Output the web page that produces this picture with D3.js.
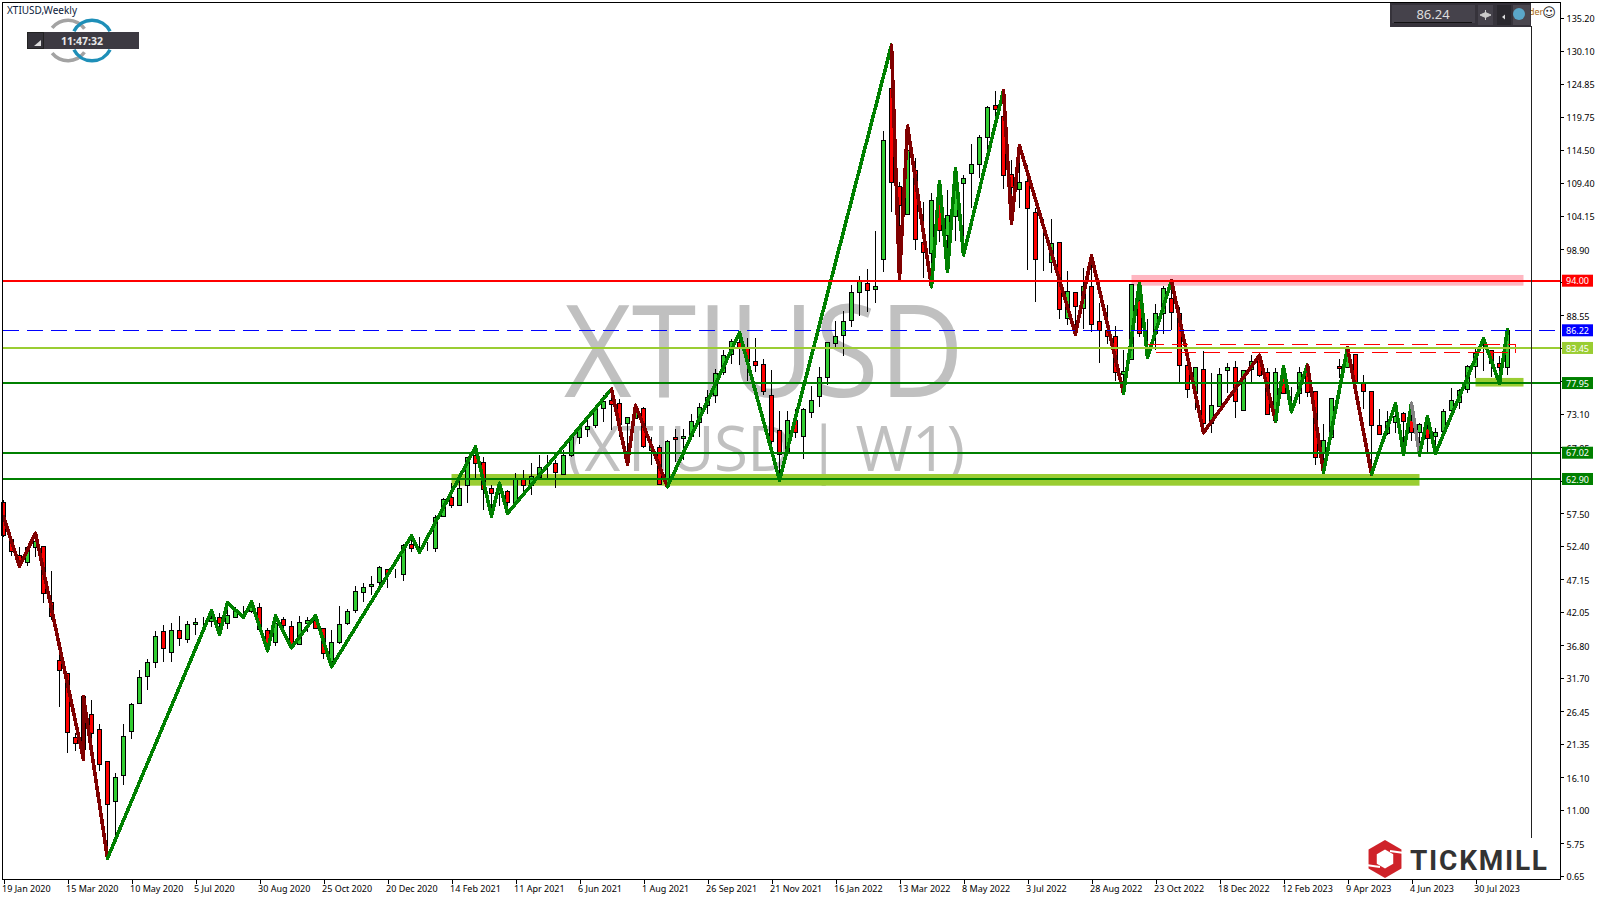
<!DOCTYPE html>
<html>
<head>
<meta charset="utf-8">
<title>XTIUSD,Weekly</title>
<script src="https://cdn.jsdelivr.net/npm/d3@7"></script>
<style>
    html, body { margin: 0; padding: 0; background: #fff; overflow: hidden; }
    text { font-family: "Noto Sans", sans-serif; }
    .axis text { font-size: 9px; fill: #000; }
    .axis line { stroke: #000; shape-rendering: crispEdges; }
    .axis path { display: none; }
</style>
</head>
<body>
<div id="chart"></div>
<script>
// weekly candles, one per week starting 19 Jan 2020
const opens = [
    59.24, 53.43, 50.92, 49.83, 52.18, 52.28, 43.55, 34.46, 32.42, 22.38,
    20.50, 25.99, 23.63, 18.62, 12.34, 16.42, 23.32, 27.71, 31.95, 34.14,
    39.00, 35.71, 39.16, 37.75, 40.10, 40.52, 40.57, 41.20, 40.26, 41.20,
    42.09, 42.09, 42.77, 39.16, 37.28, 40.89, 39.79, 36.97, 40.26, 40.73,
    39.48, 34.35, 37.23, 40.20, 42.24, 45.12, 46.06, 46.69, 48.72, 48.04,
    47.94, 52.65, 52.12, 52.02, 52.02, 56.98, 60.02, 58.76, 61.90, 66.66,
    65.51, 61.43, 60.64, 60.91, 59.23, 62.84, 61.95, 63.15, 65.45, 65.35,
    63.57, 66.60, 69.43, 70.68, 71.26, 73.98, 75.18, 74.76, 71.62, 72.41,
    74.03, 67.33, 67.87, 61.95, 69.43, 69.28, 69.53, 71.83, 74.39, 76.02,
    79.57, 82.45, 84.27, 83.44, 81.35, 80.82, 76.02, 70.53, 67.24, 72.10,
    69.53, 73.29, 75.86, 78.78, 84.18, 85.37, 87.83, 92.17, 93.59, 92.58,
    97.35, 124.17, 108.74, 104.35, 111.31, 100.02, 98.29, 106.13, 101.16, 104.14,
    109.27, 110.84, 112.25, 116.49, 121.44, 119.72, 110.62, 108.33, 109.52, 104.72,
    97.51, 96.88, 100.02, 88.10, 92.11, 89.67, 93.05, 87.57, 86.15, 85.21,
    79.36, 81.67, 90.97, 85.68, 85.64, 88.88, 91.17, 88.88, 80.73, 76.38,
    80.10, 71.63, 74.23, 79.88, 80.41, 73.61, 80.10, 82.08, 79.63, 72.15,
    78.94, 76.38, 76.33, 79.63, 76.59, 66.92, 69.43, 80.62, 80.41, 82.45,
    77.90, 76.65, 71.32, 70.06, 71.79, 73.20, 72.15, 70.16, 70.85, 69.53,
    70.38, 73.61, 74.92, 76.96, 80.51, 82.86, 83.02, 81.04, 80.41
];
const highs = [
    59.60, 53.59, 52.18, 52.39, 54.39, 52.39, 48.47, 35.55, 32.52, 23.01,
    28.86, 28.24, 24.42, 18.72, 16.73, 24.42, 27.71, 32.94, 34.61, 39.06,
    39.98, 40.26, 41.41, 40.63, 41.10, 41.25, 42.25, 41.83, 42.61, 42.87,
    42.98, 43.66, 43.40, 39.48, 41.41, 41.20, 40.63, 41.41, 41.30, 41.57,
    39.48, 39.21, 42.98, 42.46, 46.11, 46.53, 47.68, 49.25, 48.72, 48.72,
    52.70, 53.85, 53.74, 53.06, 57.25, 59.86, 62.21, 62.74, 66.40, 67.81,
    66.40, 61.95, 62.21, 61.17, 63.78, 64.30, 65.35, 66.66, 66.66, 65.87,
    67.44, 69.79, 71.36, 72.41, 74.34, 76.07, 77.01, 75.39, 72.67, 74.34,
    74.19, 69.53, 68.23, 69.01, 70.74, 70.74, 73.09, 74.81, 76.85, 80.10,
    83.13, 84.80, 85.84, 85.01, 85.01, 81.67, 79.99, 73.56, 73.56, 73.83,
    74.03, 77.48, 80.51, 84.43, 87.67, 89.29, 93.32, 94.73, 95.78, 101.79,
    117.47, 130.96, 109.43, 118.26, 113.19, 106.29, 107.70, 109.52, 108.22, 111.62,
    110.57, 115.44, 116.85, 121.39, 123.75, 123.79, 112.93, 115.01, 112.14, 105.35,
    103.63, 103.63, 100.02, 95.52, 92.11, 95.94, 97.76, 90.45, 90.18, 86.94,
    83.13, 93.48, 93.68, 87.94, 90.34, 93.17, 93.99, 89.82, 83.13, 80.46,
    82.97, 79.47, 80.35, 81.04, 81.40, 80.04, 82.34, 82.34, 80.26, 80.26,
    80.51, 77.37, 80.51, 80.77, 76.59, 71.52, 75.60, 81.72, 83.49, 82.50,
    79.20, 76.70, 73.87, 73.56, 74.66, 73.45, 74.77, 71.73, 72.67, 70.85,
    73.87, 77.12, 77.01, 80.77, 83.23, 84.85, 83.13, 82.18, 86.37
];
const lows = [
    53.75, 50.82, 49.04, 49.30, 50.61, 43.50, 40.78, 27.19, 19.98, 20.29,
    18.82, 22.22, 17.15, 3.40, 6.54, 14.96, 22.17, 27.66, 29.86, 33.31,
    34.25, 34.25, 36.70, 37.17, 38.43, 39.74, 39.68, 38.43, 39.37, 41.20,
    41.10, 41.93, 39.21, 36.08, 36.76, 39.48, 36.34, 36.86, 38.90, 39.37,
    34.67, 34.25, 37.02, 40.04, 41.93, 43.65, 44.70, 46.01, 45.85, 47.31,
    46.95, 51.39, 51.23, 51.65, 51.50, 56.88, 58.40, 58.76, 59.18, 63.10,
    58.03, 57.25, 58.66, 57.51, 59.18, 60.91, 60.38, 63.00, 63.10, 61.53,
    63.57, 66.29, 68.38, 69.53, 70.84, 71.88, 70.58, 69.43, 65.35, 72.36,
    67.76, 65.14, 61.95, 61.69, 65.61, 65.87, 69.48, 69.53, 73.09, 74.86,
    79.20, 80.93, 80.77, 78.31, 79.72, 76.02, 66.97, 62.74, 67.08, 69.28,
    66.03, 72.51, 74.23, 77.64, 83.28, 82.18, 86.78, 88.46, 89.13, 90.54,
    95.41, 104.82, 94.37, 104.25, 98.81, 94.37, 93.05, 100.11, 95.41, 100.27,
    98.03, 105.35, 110.15, 114.23, 119.72, 108.33, 103.00, 105.44, 95.67, 90.70,
    95.56, 95.15, 88.00, 87.05, 85.64, 86.42, 85.99, 81.14, 84.07, 78.31,
    76.33, 81.56, 85.12, 81.98, 83.13, 85.64, 86.26, 78.16, 75.55, 73.72,
    70.16, 70.16, 74.14, 76.43, 72.41, 73.51, 77.90, 78.94, 72.93, 71.99,
    76.23, 73.45, 74.66, 75.80, 65.09, 63.95, 69.37, 78.69, 80.35, 77.90,
    73.87, 63.68, 69.84, 69.80, 70.06, 66.81, 68.90, 66.66, 67.02, 66.93,
    70.22, 73.61, 73.83, 76.43, 78.69, 79.83, 78.94, 77.95, 79.20
];
const closes = [
    54.01, 51.55, 49.93, 52.18, 53.07, 44.96, 41.30, 32.89, 23.16, 21.44,
    28.76, 23.01, 18.20, 11.87, 16.11, 22.54, 27.56, 31.79, 34.14, 38.22,
    36.34, 39.16, 37.91, 40.10, 40.42, 40.52, 41.04, 40.26, 41.52, 42.40,
    42.09, 42.77, 39.32, 37.12, 40.26, 39.89, 37.02, 40.42, 40.73, 39.48,
    35.55, 37.28, 40.10, 42.14, 45.27, 45.90, 46.37, 49.04, 47.99, 48.04,
    52.44, 52.02, 51.97, 52.02, 56.88, 59.70, 58.71, 61.43, 66.29, 65.35,
    61.27, 60.64, 61.43, 59.23, 62.84, 61.90, 63.26, 64.72, 65.45, 63.94,
    66.60, 69.64, 71.00, 71.15, 74.03, 75.07, 74.60, 71.52, 72.56, 73.45,
    68.07, 67.96, 62.06, 68.81, 69.06, 69.64, 71.94, 74.14, 75.71, 79.47,
    82.34, 84.54, 83.55, 81.29, 80.66, 76.59, 68.74, 66.77, 72.10, 70.22,
    73.83, 75.24, 78.84, 84.33, 85.27, 87.63, 92.17, 93.84, 92.43, 93.12,
    116.02, 109.37, 105.87, 114.38, 100.49, 98.45, 106.61, 101.90, 104.25, 108.22,
    110.06, 112.25, 116.49, 121.19, 120.88, 110.46, 108.64, 109.37, 105.35, 97.35,
    97.51, 99.86, 89.51, 92.27, 90.03, 93.05, 87.16, 86.26, 85.32, 79.63,
    79.72, 93.43, 85.64, 85.68, 88.88, 92.80, 89.04, 80.73, 76.96, 80.41,
    71.63, 74.46, 79.31, 80.41, 75.02, 79.99, 81.35, 79.10, 73.04, 79.63,
    76.33, 76.38, 79.63, 76.43, 66.30, 68.90, 75.55, 80.19, 82.61, 78.06,
    76.59, 71.25, 69.95, 71.94, 72.67, 71.88, 70.22, 71.41, 69.28, 70.22,
    73.45, 75.24, 76.81, 80.57, 82.61, 82.86, 81.04, 80.41, 86.15
];

// zigzag pivots: bar number, price, and which leg leads into the pivot
const zigzagBars = [0, 2, 4, 10, 10, 13, 26, 27, 28, 30, 31, 33, 34, 36, 39, 41, 51, 52, 59, 61, 62, 63, 76,
    78, 79, 83, 92, 97, 111, 112, 113, 116, 117, 118, 119, 120, 125, 126, 127, 134, 136, 140,
    142, 143, 146, 150, 157, 159, 160, 161, 163, 165, 168, 171, 174, 175, 176, 177, 178, 179, 185, 187, 188];
const zigzagPrices = [57.00, 49.25, 54.38, 18.93, 28.75, 3.40, 42.24, 38.54, 43.49, 41.21, 43.60, 35.96, 41.41, 36.44, 41.45, 33.46, 53.95, 51.40, 67.91, 57.09, 62.22, 57.51, 77.01,
    65.25, 74.45, 61.69, 85.84, 62.74, 130.96, 94.37, 118.26, 93.05, 109.52, 95.41, 111.62, 98.03, 123.79, 103.00, 115.17, 85.64, 97.87, 76.33,
    93.68, 81.98, 93.99, 70.16, 82.29, 71.99, 80.51, 73.45, 80.77, 63.95, 83.49, 63.68, 74.66, 66.81, 74.77, 66.66, 72.67, 66.93, 84.85, 77.90, 86.37];
const zigzagLegs = ["", "down", "down", "down", "down", "down", "up", "up", "up", "up", "up", "up", "up", "up", "up", "up", "up", "up", "up", "up", "up", "up", "up",
    "down", "down", "down", "up", "up", "up", "down", "down", "down", "up", "up", "up", "up", "up", "down", "down", "down", "down", "down",
    "up", "up", "up", "down", "down", "down", "up", "up", "up", "down", "up", "down", "up", "up", "up", "flat", "up", "up", "up", "up", "up"];

// horizontal levels
const levelPrices = [94.00, 86.22, 83.45, 77.95, 67.02, 62.90];
const levelNames = ["resistance", "current", "pivot", "support", "support", "support"];

// zones: first bar, last bar, upper price, lower price
const zoneBars = [[141, 190], [56, 177], [184, 190]];
const zonePrices = [[94.90, 93.22], [63.68, 61.85], [78.75, 77.40]];
const zoneNames = ["resistance", "support", "support"];

// dashed box near the top of the range
const boxBars = [143, 189];
const boxPrices = [84.02, 82.73];

// axis labels
const yTicks = [135.20, 130.10, 124.85, 119.75, 114.50, 109.40, 104.15, 98.90, 93.80, 88.55, 83.45, 78.20, 73.10, 67.85, 62.60,
    57.50, 52.40, 47.15, 42.05, 36.80, 31.70, 26.45, 21.35, 16.10, 11.00, 5.75, 0.65];
const xLabels = ["19 Jan 2020", "15 Mar 2020", "10 May 2020", "5 Jul 2020", "30 Aug 2020", "25 Oct 2020", "20 Dec 2020",
    "14 Feb 2021", "11 Apr 2021", "6 Jun 2021", "1 Aug 2021", "26 Sep 2021", "21 Nov 2021", "16 Jan 2022", "13 Mar 2022",
    "8 May 2022", "3 Jul 2022", "28 Aug 2022", "23 Oct 2022", "18 Dec 2022", "12 Feb 2023", "9 Apr 2023", "4 Jun 2023", "30 Jul 2023"];

const candles = opens.map((o, i) => ({ i: i, o: o, h: highs[i], l: lows[i], c: closes[i] }));

const legColor = { down: "#800000", up: "#008000", flat: "#808080" };
const levelColor = { resistance: "#ff0000", current: "#0000ff", pivot: "#9acd32", support: "#008000" };
const zoneColor = { resistance: "#ffb6c1", support: "#9acd32" };

const width = 1600, height = 900;
const frame = { left: 2.5, top: 2.5, right: 1560.5, bottom: 879.5 };

const svg = d3.select("#chart").append("svg")
    .attr("width", width)
    .attr("height", height)
    .style("display", "block");

// one bar is 8px wide
const x = d3.scaleLinear().domain([0, 188]).range([3.5, 1507.5]);
const y = d3.scaleLinear().domain([0.65, 135.2]).range([875.9, 18]);

// watermark
const mark = svg.append("g").attr("fill", "#c0c0c0").style("font-family", "Open Sans");
mark.append("text")
    .attr("x", 564).attr("y", 397)
    .attr("font-size", 128)
    .attr("textLength", 400)
    .attr("lengthAdjust", "spacingAndGlyphs")
    .style("font-family", "Open Sans")
    .text("XTIUSD");
mark.append("text")
    .attr("x", 567).attr("y", 471)
    .attr("font-size", 62)
    .attr("textLength", 398)
    .style("font-family", "Open Sans")
    .text("(XTIUSD | W1)");

// zones sit behind the candles
svg.append("g").selectAll("rect")
    .data(zoneBars)
    .enter().append("rect")
    .attr("x", d => x(d[0]))
    .attr("width", d => x(d[1]) - x(d[0]))
    .attr("y", (d, i) => y(zonePrices[i][0]))
    .attr("height", (d, i) => y(zonePrices[i][1]) - y(zonePrices[i][0]))
    .attr("fill", (d, i) => zoneColor[zoneNames[i]]);

// candles
const candleG = svg.append("g").attr("shape-rendering", "crispEdges");
candleG.selectAll("line")
    .data(candles)
    .enter().append("line")
    .attr("x1", d => x(d.i)).attr("x2", d => x(d.i))
    .attr("y1", d => y(d.h)).attr("y2", d => y(d.l))
    .attr("stroke", "#000");
candleG.selectAll("rect")
    .data(candles)
    .enter().append("rect")
    .attr("x", d => x(d.i) - 2)
    .attr("width", 4)
    .attr("y", d => y(Math.max(d.o, d.c)))
    .attr("height", d => Math.abs(y(d.o) - y(d.c)))
    .attr("fill", d => d.c >= d.o ? "#32cd32" : "#ff0000")
    .attr("stroke", "#000");

// zigzag, one segment at a time so each leg keeps its own colour
const zigzag = d3.line().x(d => x(d[0])).y(d => y(d[1]));
const zzG = svg.append("g")
    .attr("fill", "none")
    .attr("stroke-width", 3.6)
    .attr("stroke-linecap", "round")
    .attr("shape-rendering", "crispEdges");
for (let k = 1; k < zigzagBars.length; k++) {
    zzG.append("path")
        .attr("d", zigzag([[zigzagBars[k - 1], zigzagPrices[k - 1]], [zigzagBars[k], zigzagPrices[k]]]))
        .attr("stroke", legColor[zigzagLegs[k]]);
}

// dashed box
const box = svg.append("g")
    .attr("stroke", "#ff0000")
    .attr("fill", "none")
    .attr("shape-rendering", "crispEdges");
box.append("line")
    .attr("x1", x(boxBars[0])).attr("x2", x(boxBars[1]))
    .attr("y1", y(boxPrices[0])).attr("y2", y(boxPrices[0]))
    .attr("stroke-dasharray", "16,8");
box.append("line")
    .attr("x1", x(boxBars[0] + 1)).attr("x2", x(boxBars[1] - 1))
    .attr("y1", y(boxPrices[1])).attr("y2", y(boxPrices[1]))
    .attr("stroke-dasharray", "16,8");
box.append("line")
    .attr("x1", x(boxBars[1])).attr("x2", x(boxBars[1]))
    .attr("y1", y(boxPrices[0])).attr("y2", y(boxPrices[1]));

// horizontal levels
svg.append("g").selectAll("line")
    .data(levelPrices)
    .enter().append("line")
    .attr("x1", frame.left).attr("x2", frame.right)
    .attr("y1", d => y(d)).attr("y2", d => y(d))
    .attr("stroke", (d, i) => levelColor[levelNames[i]])
    .attr("stroke-width", (d, i) => levelNames[i] == "current" ? 1 : 2)
    .attr("stroke-dasharray", (d, i) => levelNames[i] == "current" ? "16,8" : null)
    .attr("shape-rendering", "crispEdges");

// cursor line from the trade panel
svg.append("line")
    .attr("x1", 1531.5).attr("x2", 1531.5)
    .attr("y1", 26).attr("y2", 838)
    .attr("stroke", "#222")
    .attr("shape-rendering", "crispEdges");

// chart frame
svg.append("rect")
    .attr("x", frame.left).attr("y", frame.top)
    .attr("width", frame.right - frame.left)
    .attr("height", frame.bottom - frame.top)
    .attr("fill", "none")
    .attr("stroke", "#000")
    .attr("shape-rendering", "crispEdges");

// Y axis
svg.append("g")
    .attr("class", "axis")
    .attr("transform", "translate(" + frame.right + ",0)")
    .call(d3.axisRight(y).tickValues(yTicks).tickFormat(d3.format(".2f")).tickSize(3).tickPadding(3))
    .selectAll("text")
    .attr("y", 1);

// X axis, a label every 8 bars
svg.append("g")
    .attr("class", "axis")
    .attr("transform", "translate(0," + frame.bottom + ")")
    .call(d3.axisBottom(x).tickValues(d3.range(0, 189, 8)).tickFormat(d => xLabels[d / 8]).tickSize(4).tickPadding(2))
    .selectAll("text")
    .style("text-anchor", "start")
    .attr("dx", -2);

// price badges on the axis
const badge = svg.append("g").selectAll("g")
    .data(levelPrices)
    .enter().append("g")
    .attr("transform", d => "translate(1562," + y(d) + ")");
badge.append("rect")
    .attr("y", -6).attr("width", 31).attr("height", 12)
    .attr("fill", (d, i) => levelColor[levelNames[i]]);
badge.append("text")
    .attr("x", 4).attr("y", 0.5).attr("dy", "0.35em")
    .attr("font-size", 9)
    .attr("fill", "#fff")
    .text(d => d.toFixed(2));

// chart title
svg.append("text")
    .attr("x", 7).attr("y", 14)
    .attr("font-size", 10)
    .attr("fill", "#0a1a3a")
    .text("XTIUSD,Weekly");

// clock logo, top left
const arc = d3.arc().innerRadius(18.5).outerRadius(22);
const logo = svg.append("g").attr("transform", "translate(0,40.5)");
logo.append("path")
    .attr("transform", "translate(68,0)")
    .attr("d", arc({ startAngle: -0.9, endAngle: 0.95 }))
    .attr("fill", "#a3a3a3");
logo.append("path")
    .attr("transform", "translate(68,0)")
    .attr("d", arc({ startAngle: Math.PI - 0.95, endAngle: Math.PI + 0.9 }))
    .attr("fill", "#a3a3a3");
logo.append("path")
    .attr("transform", "translate(92,0)")
    .attr("d", arc({ startAngle: -1.1, endAngle: 1.1 }))
    .attr("fill", "#1e8fb8");
logo.append("path")
    .attr("transform", "translate(92,0)")
    .attr("d", arc({ startAngle: Math.PI - 1.1, endAngle: Math.PI + 1.1 }))
    .attr("fill", "#1e8fb8");
svg.append("rect")
    .attr("x", 27).attr("y", 32).attr("width", 112).attr("height", 17)
    .attr("fill", "#3d3a42");
svg.append("rect")
    .attr("x", 27.5).attr("y", 32.5).attr("width", 16).attr("height", 16)
    .attr("fill", "#35333a").attr("stroke", "#222");
svg.append("path")
    .attr("d", "M34,46 L41,46 L41,40 Z")
    .attr("fill", "#ddd");
svg.append("text")
    .attr("x", 82).attr("y", 44.5)
    .attr("text-anchor", "middle")
    .attr("font-size", 10.5)
    .attr("font-weight", "bold")
    .attr("fill", "#e8e8e8")
    .text("11:47:32");

// trade panel, top right
svg.append("text")
    .attr("x", 1529).attr("y", 15)
    .attr("font-size", 9)
    .attr("fill", "#a86a10")
    .text("der");
svg.append("rect")
    .attr("x", 1390).attr("y", 3).attr("width", 141).attr("height", 24)
    .attr("fill", "#36333b");
svg.append("rect")
    .attr("x", 1392).attr("y", 5).attr("width", 83).attr("height", 18)
    .attr("fill", "#45424b");
svg.append("line")
    .attr("x1", 1394).attr("x2", 1472).attr("y1", 22.5).attr("y2", 22.5)
    .attr("stroke", "#111");
svg.append("text")
    .attr("x", 1433).attr("y", 19)
    .attr("text-anchor", "middle")
    .attr("font-size", 13)
    .attr("fill", "#ddd")
    .text("86.24");
svg.append("rect")
    .attr("x", 1478).attr("y", 5).attr("width", 15).attr("height", 20)
    .attr("fill", "#45424b");
svg.append("path")
    .attr("d", "M1480,15 L1485.5,12.5 L1491,15 L1485.5,17.5 Z M1485.5,10 L1485.5,20")
    .attr("stroke", "#ccc").attr("fill", "#ccc");
svg.append("rect")
    .attr("x", 1497).attr("y", 5).attr("width", 14).attr("height", 20)
    .attr("fill", "#2a282e");
svg.append("path")
    .attr("d", "M1502,17 L1505,14.5 L1505,19.5 Z")
    .attr("fill", "#ddd");
svg.append("rect")
    .attr("x", 1513).attr("y", 5).attr("width", 17).attr("height", 20)
    .attr("fill", "#4a474f");
svg.append("circle")
    .attr("cx", 1519).attr("cy", 14).attr("r", 6)
    .attr("fill", "#5aa7c9");
svg.append("text")
    .attr("x", 1549).attr("y", 17)
    .attr("text-anchor", "middle")
    .attr("font-size", 13)
    .style("font-family", "DejaVu Sans")
    .attr("fill", "#222")
    .text("\u263A");

// Tickmill logo, bottom right
const hex = r => d3.range(6).map(k => {
    const a = Math.PI / 3 * k;
    return [r * Math.sin(a), -r * Math.cos(a)];
});
const tick = svg.append("g").attr("transform", "translate(1385,859)");
tick.append("path")
    .attr("d", "M" + hex(19).join("L") + "Z")
    .attr("fill", "#cf2229");
tick.append("path")
    .attr("d", "M" + hex(9.5).join("L") + "Z")
    .attr("fill", "#fff");
tick.append("path")
    .attr("d", "M5,-8 L19,-6 M-19,6 L-5,8")
    .attr("stroke", "#fff")
    .attr("stroke-width", 2);
svg.append("text")
    .attr("x", 1410).attr("y", 869.5)
    .attr("font-size", 28)
    .attr("font-weight", "bold")
    .attr("fill", "#333")
    .attr("textLength", 137)
    .style("font-family", "Roboto, sans-serif")
    .text("TICKMILL");
</script>
</body>
</html>
